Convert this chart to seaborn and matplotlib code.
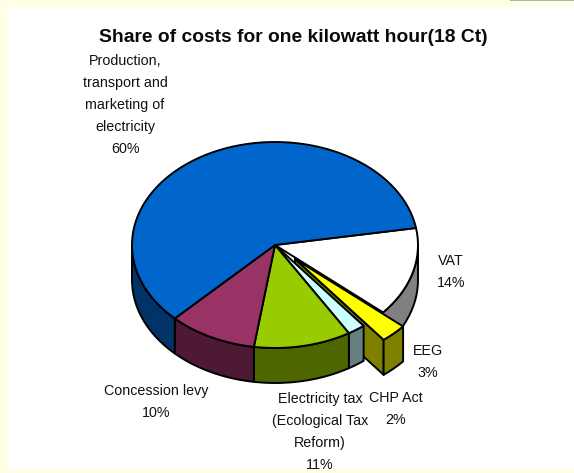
import numpy as np
import matplotlib
matplotlib.use("Agg")
import matplotlib.pyplot as plt
from matplotlib.patches import Polygon, Rectangle
import seaborn as sns

# Cost shares of one kilowatt hour, counter-clockwise from the first slice
names = ["Production,\ntransport and\nmarketing of\nelectricity",
         "Concession levy",
         "Electricity tax\n(Ecological Tax\nReform)",
         "CHP Act",
         "EEG",
         "VAT"]
shares = [60, 10, 11, 2, 3, 14]
top_colors = ["#0066CC", "#993366", "#99CC00", "#CCFFFF", "#FFFF00", "#FFFFFF"]
side_colors = ["#003366", "#4D1933", "#4D6600", "#668080", "#808000", "#808080"]
title = "Share of costs for one kilowatt hour(18 Ct)"

sns.set_theme(style="white", font="Liberation Sans")
plt.rcParams["font.family"] = ["Liberation Sans", "DejaVu Sans"]

W, H = 574, 473
BG = "#FFFFE3"
fig = plt.figure(figsize=(W / 100, H / 100), dpi=100, facecolor=BG)
ax = fig.add_axes([0, 0, 1, 1])
ax.set_xlim(0, W)
ax.set_ylim(H, 0)
ax.axis("off")

# White panel and the small grey rule at the top edge
ax.add_patch(Rectangle((7, 7), W - 7, 463, fc="white", ec="none", zorder=0))
ax.add_patch(Rectangle((510, 0), 64, 1, fc="#B0B0B0", ec="none", zorder=0))

# Projected pie geometry
cx, cy = 275.0, 245.0
rx, ry = 143.0, 103.0
depth = 35.0
start = 9.5
exploded = "EEG"
offset = np.array([20.0, 14.0])
lw = 1.4


def rim(t0, t1, shift=(0.0, 0.0), drop=0.0):
    t = np.radians(np.linspace(t0, t1, max(2, int(abs(t1 - t0) / 3) + 2)))
    return np.column_stack([cx + shift[0] + rx * np.cos(t),
                            cy + shift[1] + drop - ry * np.sin(t)])


def face(points, color, z):
    ax.add_patch(Polygon(points, closed=True, fc=color, ec="black",
                         lw=lw, joinstyle="round", zorder=z))


# Slice angle ranges from the shares
edges = start + np.concatenate([[0], np.cumsum(shares)]) * 3.6
slices = {n: (edges[i], edges[i + 1], top_colors[i], side_colors[i])
          for i, n in enumerate(names)}

# Painter's order: far slices first, near ones on top
order = [5, 4, 3, 2, 1, 0]
z = 2
for i in order:
    t0, t1, ctop, cside = slices[names[i]]
    shift = offset if names[i] == exploded else np.zeros(2)
    apex = np.array([cx, cy]) + shift
    if names[i] == exploded:
        # Cut wall on the near side of the pulled-out slice
        edge = rim(t0, t0, shift)[0]
        face([apex, edge, edge + [0, depth], apex + [0, depth]], cside, z)
        z += 1
    # Outer wall, only for the part of the rim facing the viewer
    a, b = max(t0, 180.0), min(t1, 360.0)
    if a < b:
        upper = rim(a, b, shift)
        lower = rim(b, a, shift, depth)
        face(np.vstack([upper, lower]), cside, z)
        z += 1
    face(np.vstack([[apex], rim(t0, t1, shift)]), ctop, z)
    z += 1

# Slice labels
label_style = dict(ha="center", va="top", fontsize=10.3, color="#111111",
                   linespacing=1.72, zorder=30)
label_pos = [(125, 54), (156, 384), (320, 392), (396, 391), (428, 344), (451, 254)]
for name, share, (x, y) in zip(names, shares, label_pos):
    ax.text(x, y, f"{name}\n{share}%", **label_style)

ax.text(293, 37, title, ha="center", va="center", fontsize=13.85,
        fontweight="bold", color="#0A0A0A", zorder=30)

fig.savefig("out.png", dpi=100, facecolor=BG)
